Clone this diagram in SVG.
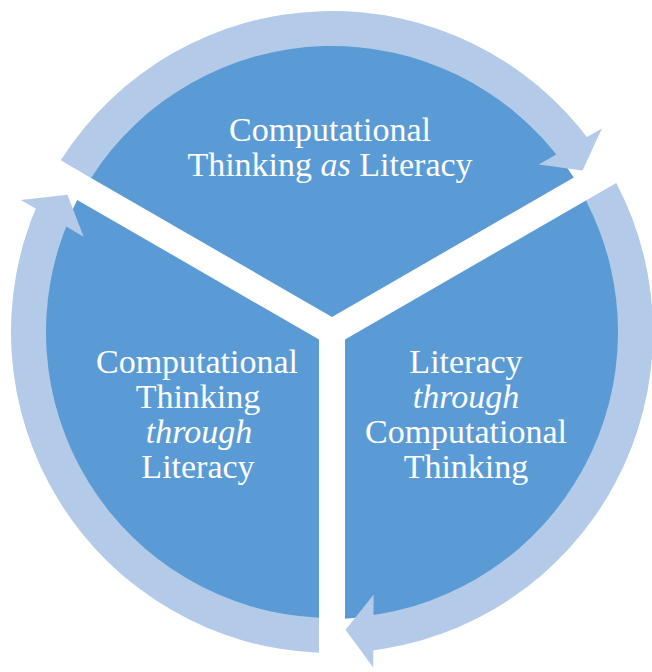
<svg xmlns="http://www.w3.org/2000/svg" width="652" height="672" viewBox="0 0 652 672">
  <style>
    .sector { fill: #5b9bd5; }
    .arrow { fill: #b3cae8; }
    .label { fill: #ffffff; font-family: "Liberation Serif", "Times New Roman", serif; font-size: 34px; text-anchor: middle; }
    .it { font-style: italic; }
  </style>
  <rect width="652" height="672" fill="#ffffff"/>
  <g id="node-top">
    <path class="sector" d="M 332 317 L 90.21 177.39 A 287 287 0 0 1 573.79 177.39 Z"/>
    <text class="label" x="330" y="141">Computational</text>
    <text class="label" x="330" y="176">Thinking <tspan class="it">as</tspan> Literacy</text>
  </g>
  <g id="node-right">
    <path class="sector" d="M 345 339.5 L 586.79 199.91 A 287 287 0 0 1 345 618.71 Z"/>
    <text class="label" x="466" y="373">Literacy</text>
    <text class="label it" x="466" y="408">through</text>
    <text class="label" x="466" y="443">Computational</text>
    <text class="label" x="466" y="478">Thinking</text>
  </g>
  <g id="node-left">
    <path class="sector" d="M 319 339.5 L 319 618.71 A 287 287 0 0 1 77.21 199.91 Z"/>
    <text class="label" x="197" y="373">Computational</text>
    <text class="label" x="198" y="408">Thinking</text>
    <text class="label it" x="199" y="443">through</text>
    <text class="label" x="198" y="478">Literacy</text>
  </g>
  <g id="connectors">
    <g id="arrow-top-to-right">
      <path class="arrow" d="M 60.73 160.37 A 321 321 0 0 1 591.69 143.32 L 563.38 163.89 A 286 286 0 0 0 91.07 177.89 Z"/>
      <path class="arrow" d="M 538.72 164.60 L 601.94 128.59 L 582.49 170.57 Z"/>
    </g>
    <g id="arrow-right-to-left">
      <path class="arrow" d="M 616.27 182.89 A 321 321 0 0 1 365.55 651.24 L 361.90 616.43 A 286 286 0 0 0 585.93 200.41 Z"/>
      <path class="arrow" d="M 373.61 594.73 L 373.19 667.48 L 345.52 629.69 Z"/>
    </g>
    <g id="arrow-left-to-top">
      <path class="arrow" d="M 319 652.74 A 321 321 0 0 1 38.75 201.44 L 70.73 215.67 A 286 286 0 0 0 319 617.70 Z"/>
      <path class="arrow" d="M 83.67 236.67 L 20.87 199.93 L 67.43 194.86 Z"/>
    </g>
  </g>
</svg>
